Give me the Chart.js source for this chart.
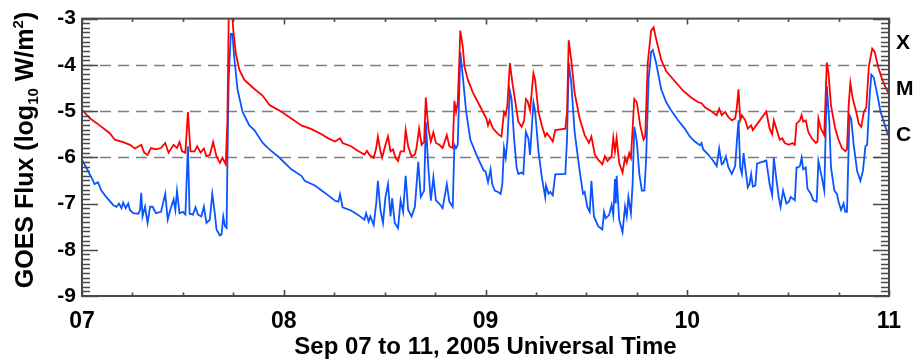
<!DOCTYPE html>
<html>
<head>
<meta charset="utf-8">
<title>GOES X-ray Flux, Sep 07-11 2005</title>
<script src="https://cdn.jsdelivr.net/npm/chart.js@4/dist/chart.umd.min.js"></script>
<style>
  html, body { margin: 0; padding: 0; background: #ffffff; }
  #wrap { width: 914px; height: 362px; position: relative; }
</style>
</head>
<body>
<div id="wrap"><canvas id="goes" width="914" height="362"></canvas></div>
<script>
// Hours since Sep 07 00:00 UT, log10 flux (W/m^2)
// 1-8 Angstrom channel
const xrayLong = [
  [0,-4.97],[0.9,-5.15],[2.1,-5.31],[3.3,-5.48],[3.9,-5.62],[4.9,-5.67],[5.7,-5.73],[6.3,-5.81],
  [7.05,-5.73],[7.4,-5.9],[7.8,-5.95],[8.2,-5.8],[8.8,-5.83],[9.4,-5.8],[9.9,-5.69],[10.3,-5.9],
  [10.9,-5.73],[11.3,-5.8],[11.6,-5.67],[11.9,-5.87],[12.3,-5.9],[12.6,-5.02],[12.9,-5.87],[13.4,-5.87],
  [13.7,-5.76],[14.1,-5.9],[14.5,-5.81],[14.8,-5.98],[15.2,-5.95],[15.6,-5.67],[16.0,-5.98],[16.4,-6.12],
  [16.7,-6.01],[17.1,-6.15],[17.3,-5.2],[17.45,-3.0],[17.65,-2.75],[17.9,-3.0],[18.0,-3.26],[18.3,-3.75],
  [18.7,-4.1],[19.3,-4.32],[20.3,-4.49],[21.5,-4.67],[22.3,-4.87],[23.5,-4.99],
  [24.9,-5.16],[26.1,-5.31],[27.3,-5.39],[28.5,-5.5],[29.3,-5.59],[30.1,-5.66],[30.7,-5.59],[31.0,-5.69],
  [32.0,-5.76],[32.8,-5.86],[33.6,-5.94],[33.9,-5.86],[34.2,-5.95],[34.7,-6.01],[35.0,-5.8],[35.2,-5.55],
  [35.5,-5.87],[35.7,-6.01],[36.1,-5.73],[36.4,-5.55],[36.7,-5.87],[37.0,-5.83],[37.3,-6.01],[37.6,-6.08],
  [37.9,-5.87],[38.3,-5.87],[38.5,-5.41],[38.8,-5.76],[39.2,-5.98],[39.6,-5.94],[39.8,-5.79],[40.1,-5.38],
  [40.4,-5.73],[40.7,-5.66],[40.9,-4.71],[41.2,-5.38],[41.5,-5.66],[41.8,-5.46],[42.1,-5.69],[42.5,-5.73],
  [42.9,-5.8],[43.4,-5.52],[43.7,-5.76],[44.1,-5.8],[44.3,-4.78],[44.5,-5.02],[44.7,-4.81],[44.9,-3.82],
  [45.0,-3.26],[45.3,-3.61],[45.5,-4.04],[45.9,-4.32],[46.5,-4.6],[47.1,-4.81],[47.7,-5.02],
  [48.1,-5.16],[48.3,-5.31],[48.5,-5.2],[48.9,-5.38],[49.5,-5.5],[49.9,-5.55],[50.2,-5.02],[50.4,-5.09],
  [50.6,-4.88],[50.9,-3.96],[51.2,-4.39],[51.5,-4.74],[51.9,-5.23],[52.3,-5.34],[52.6,-5.2],[52.8,-4.74],
  [53.0,-4.78],[53.3,-4.99],[53.7,-4.18],[53.9,-4.32],[54.3,-5.02],[54.7,-5.31],[55.1,-5.55],[55.3,-5.48],
  [55.6,-5.55],[56.0,-5.66],[56.3,-5.41],[57.5,-5.38],[57.7,-5.02],[57.9,-3.47],[58.2,-3.89],[58.6,-4.6],
  [59.2,-5.16],[59.8,-5.52],[60.3,-5.69],[60.6,-5.55],[61.0,-5.94],[61.4,-6.05],[61.9,-6.15],[62.2,-5.98],
  [62.5,-6.08],[63.0,-5.98],[63.2,-5.58],[63.4,-5.87],[63.6,-5.58],[63.9,-6.12],[64.3,-6.33],[64.6,-6.01],
  [64.8,-6.12],[65.1,-5.91],[65.3,-6.01],[65.7,-4.74],[66.0,-4.81],[66.4,-5.31],[66.8,-5.62],[67.0,-5.55],
  [67.3,-3.96],[67.7,-3.26],[68.0,-3.19],[68.3,-3.44],[68.9,-3.89],[69.5,-4.14],[70.5,-4.35],[71.5,-4.56],
  [72.5,-4.71],[73.3,-4.81],[73.7,-4.83],[74.1,-4.92],[74.9,-5.01],[75.5,-5.09],[75.8,-4.95],[76.1,-5.09],
  [76.5,-5.02],[76.9,-5.13],[77.3,-5.2],[77.7,-5.16],[77.9,-4.92],[78.1,-4.53],[78.3,-5.2],[78.5,-5.09],
  [78.9,-5.2],[79.2,-5.38],[79.6,-5.31],[79.8,-5.41],[80.2,-5.31],[81.4,-5.01],[81.8,-5.38],[82.1,-5.5],
  [82.3,-5.2],[82.6,-5.38],[83.0,-5.62],[83.3,-5.59],[83.6,-5.69],[84.1,-5.73],[84.5,-5.69],[84.8,-5.73],
  [85.0,-5.27],[85.4,-5.2],[85.6,-5.09],[85.8,-5.23],[86.1,-5.2],[86.4,-5.45],[86.8,-5.59],[87.3,-5.69],
  [87.5,-5.66],[87.6,-5.16],[87.9,-5.38],[88.3,-5.52],[88.6,-3.95],[88.8,-4.18],[89.1,-4.88],[89.6,-5.38],
  [90.0,-5.62],[90.4,-5.8],[90.8,-5.87],[91.0,-5.83],[91.2,-4.88],[91.4,-4.39],[91.7,-4.74],[92.1,-5.02],
  [92.4,-5.27],[92.7,-5.34],[93.0,-5.02],[93.3,-4.92],[93.6,-4.04],[94.0,-3.65],[94.3,-3.72],[94.7,-4.04],
  [95.2,-4.32],[95.6,-4.49],[95.9,-4.6]
];

// 0.5-4 Angstrom channel
const xrayShort = [
  [0,-6.05],[0.5,-6.22],[1.1,-6.43],[1.5,-6.58],[1.9,-6.54],[2.3,-6.72],[2.9,-6.86],[3.7,-7.03],
  [4.1,-7.07],[4.4,-7.0],[4.7,-7.1],[4.9,-6.98],[5.2,-7.1],[5.5,-7.0],[5.7,-7.14],[6.1,-7.21],
  [6.7,-7.22],[6.9,-7.14],[7.05,-6.77],[7.2,-7.28],[7.5,-7.07],[7.8,-7.42],[8.1,-7.07],[8.4,-7.07],
  [8.8,-7.21],[9.4,-7.18],[9.9,-6.79],[10.2,-7.35],[10.5,-7.14],[10.9,-6.91],[11.1,-7.14],[11.3,-6.73],
  [11.6,-7.21],[12.0,-7.18],[12.3,-7.24],[12.6,-5.76],[12.8,-7.22],[13.2,-7.24],[13.5,-7.08],[13.8,-7.24],
  [14.2,-7.28],[14.5,-7.07],[14.8,-7.42],[15.2,-7.35],[15.5,-6.79],[15.8,-7.21],[16.0,-7.56],[16.4,-7.69],
  [16.6,-7.67],[16.8,-7.28],[17.0,-7.49],[17.2,-7.53],[17.3,-6.08],[17.45,-4.32],[17.7,-3.33],[17.9,-3.33],
  [18.1,-3.82],[18.5,-4.53],[19.1,-5.02],[19.9,-5.31],[20.5,-5.41],[21.5,-5.69],[22.3,-5.83],[23.5,-6.01],
  [24.9,-6.26],[26.1,-6.4],[26.5,-6.51],[27.7,-6.61],[28.9,-6.77],[30.1,-6.94],[30.5,-6.96],[30.7,-6.8],
  [31.0,-7.08],[32.0,-7.15],[32.8,-7.24],[33.6,-7.35],[33.8,-7.21],[34.1,-7.39],[34.3,-7.28],[34.7,-7.46],
  [35.0,-7.0],[35.2,-6.51],[35.5,-7.14],[35.8,-7.42],[36.1,-6.86],[36.4,-6.58],[36.7,-7.28],[36.9,-6.89],
  [37.2,-7.42],[37.6,-7.53],[37.9,-6.93],[38.2,-7.18],[38.5,-6.4],[38.8,-7.14],[39.2,-7.28],[39.6,-7.07],
  [40.0,-6.1],[40.3,-6.86],[40.7,-6.72],[40.9,-5.24],[41.2,-6.22],[41.5,-6.94],[41.8,-6.43],[42.1,-6.93],
  [42.5,-7.0],[42.9,-7.1],[43.4,-6.58],[43.7,-6.96],[44.1,-7.07],[44.3,-5.73],[44.5,-5.8],[44.7,-5.73],
  [44.9,-4.46],[45.0,-3.72],[45.3,-4.25],[45.7,-5.02],[46.2,-5.62],[47.0,-5.98],[47.8,-6.29],
  [48.0,-6.3],[48.3,-6.54],[48.6,-6.26],[48.8,-6.58],[49.1,-6.72],[49.5,-6.75],[49.8,-6.79],[50.0,-6.58],
  [50.2,-5.8],[50.4,-6.01],[50.6,-5.66],[50.9,-4.56],[51.1,-4.74],[51.4,-5.59],[51.7,-6.22],[51.9,-6.36],
  [52.3,-6.33],[52.5,-6.36],[52.8,-5.45],[53.1,-5.59],[53.3,-5.95],[53.7,-4.81],[53.9,-4.99],[54.3,-5.87],
  [54.7,-6.43],[55.1,-6.86],[55.2,-6.61],[55.5,-6.79],[55.7,-6.75],[56.0,-6.82],[56.3,-6.37],[57.5,-6.36],
  [57.7,-5.59],[57.9,-3.96],[58.2,-4.39],[58.6,-5.45],[59.2,-6.29],[59.6,-6.79],[59.8,-6.75],[60.1,-7.07],
  [60.4,-7.18],[60.6,-6.51],[60.9,-7.28],[61.4,-7.49],[61.9,-7.56],[62.1,-7.18],[62.3,-7.32],[62.7,-7.25],
  [63.0,-7.03],[63.2,-7.25],[63.4,-6.47],[63.5,-7.0],[63.6,-6.4],[63.9,-7.35],[64.3,-7.62],[64.6,-7.07],
  [64.8,-7.28],[65.0,-6.86],[65.3,-7.21],[65.5,-6.58],[65.7,-5.34],[66.0,-5.66],[66.3,-6.36],[66.6,-6.72],
  [66.9,-6.72],[67.1,-6.08],[67.4,-4.32],[67.7,-3.72],[67.9,-3.68],[68.3,-3.96],[68.9,-4.53],[69.5,-4.81],
  [70.1,-4.99],[70.9,-5.2],[71.7,-5.38],
  [72.3,-5.55],[72.9,-5.66],[73.5,-5.74],[73.7,-5.69],[73.9,-5.83],[74.5,-5.94],[75.1,-6.08],[75.5,-6.19],
  [75.8,-5.81],[76.1,-6.15],[76.3,-6.12],[76.6,-5.98],[76.9,-6.22],[77.3,-6.36],[77.7,-6.19],[77.9,-5.66],
  [78.1,-5.2],[78.3,-6.22],[78.5,-6.36],[78.7,-5.91],[78.9,-6.22],[79.2,-6.65],[79.4,-6.58],[79.6,-6.36],
  [79.8,-6.63],[80.1,-6.61],[80.3,-6.14],[81.4,-6.07],[81.8,-6.58],[82.1,-6.82],[82.3,-6.01],[82.6,-6.47],
  [82.9,-6.89],[83.1,-7.07],[83.4,-6.72],[83.8,-7.0],[84.1,-6.96],[84.3,-6.86],[84.8,-6.93],[85.0,-6.22],
  [85.2,-6.22],[85.4,-6.19],[85.6,-6.01],[85.8,-6.26],[86.1,-6.22],[86.3,-6.68],[86.7,-6.79],[87.0,-6.93],
  [87.4,-6.96],[87.6,-6.08],[88.0,-6.43],[88.3,-6.72],[88.6,-4.46],[88.9,-5.24],[89.1,-6.22],[89.5,-6.72],
  [89.8,-6.79],[90.0,-6.96],[90.3,-7.14],[90.6,-7.0],[90.8,-7.18],[91.0,-7.18],[91.3,-5.09],[91.5,-5.16],
  [91.8,-5.73],[92.2,-6.29],[92.6,-6.51],[92.9,-6.29],[93.2,-5.76],[93.4,-5.73],[93.7,-4.67],[93.9,-4.21],
  [94.2,-4.28],[94.6,-4.64],[95.0,-5.02],[95.4,-5.24],[95.9,-5.52]
];

// Day-of-month labels at each 24 h mark
const dayLabels = ['07', '08', '09', '10', '11'];
// Flare class letters and the log-flux level where each is printed
const classLetters = ['X', 'M', 'C'];
const classLevels = [-3.5, -4.5, -5.5];
// Dashed reference levels (M, C, B thresholds)
const guideLevels = [-4, -5, -6];

const FONT = '"Liberation Sans", Arial, Helvetica, sans-serif';

const framePlugin = {
  id: 'goesFrame',
  beforeDatasetsDraw(chart) {
    const { ctx, chartArea: a, scales: { y } } = chart;
    ctx.save();
    ctx.strokeStyle = 'rgba(105,105,105,0.85)';
    ctx.lineWidth = 1.5;
    ctx.setLineDash([11, 7]);
    guideLevels.forEach(v => {
      const py = Math.round(y.getPixelForValue(v)) + 0.5;
      ctx.beginPath();
      ctx.moveTo(a.left, py);
      ctx.lineTo(a.right - 8, py);
      ctx.stroke();
    });
    ctx.restore();
  },
  afterDatasetsDraw(chart) {
    const { ctx, chartArea: a, scales: { x, y } } = chart;
    ctx.save();
    // frame
    ctx.strokeStyle = '#4a4a4a';
    ctx.lineWidth = 2;
    ctx.strokeRect(a.left, a.top, a.right - a.left, a.bottom - a.top);

    // y ticks, both sides, every 0.1 decade
    ctx.strokeStyle = '#4a4a4a';
    ctx.lineWidth = 1.6;
    for (let i = 0; i <= 60; i++) {
      const v = -9 + i / 10;
      const py = Math.round(y.getPixelForValue(v)) + 0.5;
      const len = (i % 10 === 0) ? 16 : 8;
      ctx.beginPath();
      ctx.moveTo(a.left, py); ctx.lineTo(a.left + len, py);
      ctx.moveTo(a.right, py); ctx.lineTo(a.right - len, py);
      ctx.stroke();
    }
    // x ticks, top and bottom, every 6 hours
    for (let h = 0; h <= 96; h += 6) {
      const px = Math.round(x.getPixelForValue(h)) + 0.5;
      const len = (h % 24 === 0) ? 6 : 3.5;
      ctx.beginPath();
      ctx.moveTo(px, a.bottom); ctx.lineTo(px, a.bottom - len);
      ctx.moveTo(px, a.top); ctx.lineTo(px, a.top + len);
      ctx.stroke();
    }

    // flare class letters on the right
    ctx.fillStyle = '#000';
    ctx.font = 'bold 21px ' + FONT;
    ctx.textAlign = 'left';
    ctx.textBaseline = 'middle';
    classLetters.forEach((t, i) => {
      ctx.fillText(t, a.right + 7, y.getPixelForValue(classLevels[i]) + 1);
    });

    // x axis title
    ctx.font = 'bold 24px ' + FONT;
    ctx.textAlign = 'center';
    ctx.textBaseline = 'alphabetic';
    ctx.fillText('Sep 07 to 11, 2005 Universal Time', (a.left + a.right) / 2, 354);

    // y axis title with subscript and superscript
    const parts = [
      { t: 'GOES Flux (log', size: 25, dy: 0 },
      { t: '10', size: 15, dy: 5 },
      { t: ' W/m', size: 25, dy: 0 },
      { t: '2', size: 15, dy: -10 },
      { t: ')', size: 25, dy: 0 }
    ];
    let total = 0;
    parts.forEach(p => { ctx.font = 'bold ' + p.size + 'px ' + FONT; p.w = ctx.measureText(p.t).width; total += p.w; });
    ctx.translate(33, 150);
    ctx.rotate(-Math.PI / 2);
    ctx.textAlign = 'left';
    let cx = -total / 2;
    parts.forEach(p => {
      ctx.font = 'bold ' + p.size + 'px ' + FONT;
      ctx.fillText(p.t, cx, p.dy);
      cx += p.w;
    });
    ctx.restore();
  }
};

new Chart(document.getElementById('goes'), {
  type: 'line',
  data: {
    datasets: [
      {
        label: '1-8 \u00c5',
        data: xrayLong.map(([h, v]) => ({ x: h, y: v })),
        borderColor: '#ff0000',
        borderWidth: 1.8,
        pointRadius: 0,
        tension: 0
      },
      {
        label: '0.5-4 \u00c5',
        data: xrayShort.map(([h, v]) => ({ x: h, y: v })),
        borderColor: '#0a55ff',
        borderWidth: 1.8,
        pointRadius: 0,
        tension: 0
      }
    ]
  },
  options: {
    responsive: false,
    animation: false,
    devicePixelRatio: 1,
    layout: { padding: { left: 0, top: 12, right: 25, bottom: 0 } },
    plugins: { legend: { display: false }, tooltip: { enabled: false } },
    scales: {
      x: {
        type: 'linear',
        min: 0,
        max: 96,
        afterFit: s => { s.height = 66; },
        grid: { display: false, drawTicks: false },
        border: { display: false },
        ticks: {
          stepSize: 24,
          autoSkip: false,
          maxRotation: 0,
          padding: 12,
          color: '#000',
          font: { family: FONT, size: 23, weight: 'bold' },
          callback: v => dayLabels[Math.round(v / 24)]
        }
      },
      y: {
        type: 'linear',
        min: -9,
        max: -3,
        afterFit: s => { s.width = 82; },
        grid: { display: false, drawTicks: false },
        border: { display: false },
        ticks: {
          stepSize: 1,
          padding: 6,
          color: '#000',
          font: { family: FONT, size: 21, weight: 'bold' },
          callback: v => String(v)
        }
      }
    }
  },
  plugins: [framePlugin]
});
</script>
</body>
</html>
